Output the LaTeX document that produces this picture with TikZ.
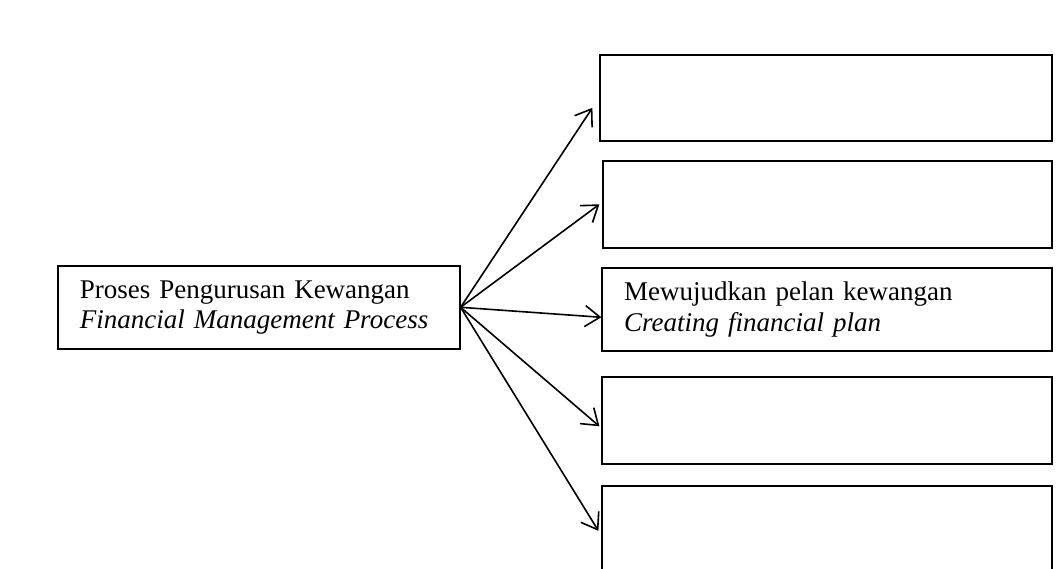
\documentclass[tikz,border=0pt]{standalone}
\usepackage{fontspec}
\setmainfont{Liberation Serif}
\usetikzlibrary{arrows.meta,calc}

\begin{document}
\begin{tikzpicture}[x=1pt,y=-1pt,>={Straight Barb[length=15pt,width=21pt]},
  font=\fontsize{27}{30.5}\selectfont,
  procbox/.style={draw,line width=1.6pt,anchor=north west,align=left,text width=358pt,inner xsep=22pt,inner ysep=2pt,minimum height=83pt},
  stagebox/.style={draw,line width=1.6pt,anchor=north east,minimum width=450pt,minimum height=86pt},
  link/.style={->,line width=1.6pt}]
  \useasboundingbox (0,0) rectangle (1058,569);
  % process box on the left
  \node[procbox] (proc) at (57,265) {Proses Pengurusan Kewangan\\\textit{Financial Management Process}};
  % stage boxes on the right, only the middle one filled in
  \node[stagebox,minimum width=452pt] (st1) at (1053,54) {};
  \node[stagebox,minimum width=449pt,minimum height=87pt] (st2) at (1053,160) {};
  \node[stagebox,align=left,text width=406pt,inner xsep=22pt,inner ysep=2pt,minimum height=83pt] (st3) at (1053,267) {Mewujudkan pelan kewangan\\\textit{Creating financial plan}};
  \node[stagebox,minimum height=87pt] (st4) at (1053,376) {};
  \node[stagebox] (st5) at (1053,485) {};
  % fan of arrows
  \draw[link] (proc.east) -- ($(st1.west)+(-7,10)$);
  \draw[link] (proc.east) -- ($(st2.west)+(-3,0)$);
  \draw[link] (proc.east) -- ($(st3.west)+(0,8)$);
  \draw[link] (proc.east) -- ($(st4.west)+(-2,6)$);
  \draw[link] (proc.east) -- ($(st5.west)+(-3,2)$);
\end{tikzpicture}
\end{document}
